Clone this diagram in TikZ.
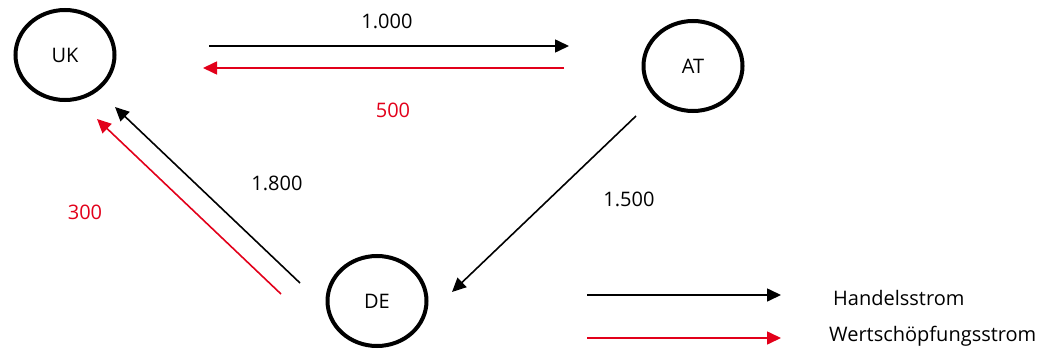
\documentclass[tikz,border=0pt]{standalone}
\usepackage{fontspec}
\setmainfont{Open Sans}
\usetikzlibrary{shapes.geometric}
\usetikzlibrary{arrows.meta}
\usepackage{xcolor}
\definecolor{flowred}{RGB}{226,0,26}

\begin{document}
\begin{tikzpicture}[x=1pt, y=-1pt]
        % ================= Stile =================
        \tikzset{
            % Laender: schwarze dicke Ellipse
            land/.style={ellipse, draw=black, line width=4pt, minimum width=99pt, minimum height=90pt, inner sep=0pt, font=\fontsize{20}{24}\selectfont},
            % Handelsstrom (schwarz)
            trade/.style={line width=1.6pt, black, -{Triangle[length=14pt, width=13pt]}},
            % Wertschoepfungsstrom (rot)
            value/.style={line width=1.6pt, flowred, -{Triangle[length=14pt, width=13pt]}},
            % Zahlen und Legendentext
            lbl/.style={inner sep=0pt, font=\fontsize{20}{24}\selectfont}
        }
        \useasboundingbox (0,0) rectangle (1046,350);

        % ================= Laender =================
        \foreach \n/\x/\y in {UK/65/55, AT/693/66, DE/377/301} {
            \node[land] (\n) at (\x,\y) {\n};
        }

        % ================= Endpunkte der Pfeile =================
        \coordinate (hUA1) at (209,46);  \coordinate (hUA2) at (569,46);
        \coordinate (wAU1) at (564,68);  \coordinate (wAU2) at (203,68);
        \coordinate (hDU1) at (300,283); \coordinate (hDU2) at (115,107);
        \coordinate (wDU1) at (281,294); \coordinate (wDU2) at (97,119);
        \coordinate (hAD1) at (636,116); \coordinate (hAD2) at (452,292);

        % ================= Stroeme =================
        \draw[trade] (hUA1) -- (hUA2);
        \draw[value] (wAU1) -- (wAU2);
        \draw[trade] (hDU1) -- (hDU2);
        \draw[value] (wDU1) -- (wDU2);
        \draw[trade] (hAD1) -- (hAD2);

        \node[lbl] (nUA) at (387,21) {1.000};
        \node[lbl, text=flowred] (nAU) at (393,110) {500};
        \node[lbl] (nDU) at (277,183) {1.800};
        \node[lbl, text=flowred] (nUD) at (85,212) {300};
        \node[lbl] (nAD) at (629,199) {1.500};

        % ================= Legende =================
        \coordinate (lh1) at (587,295); \coordinate (lh2) at (781,295);
        \coordinate (lw1) at (587,338); \coordinate (lw2) at (781,338);
        \draw[trade] (lh1) -- (lh2);
        \draw[value] (lw1) -- (lw2);
        \node[lbl, anchor=west] (lgh) at (833,298) {Handelsstrom};
        \node[lbl, anchor=west] (lgw) at (829,336) {Wertschöpfungsstrom};

    \end{tikzpicture}
\end{document}
